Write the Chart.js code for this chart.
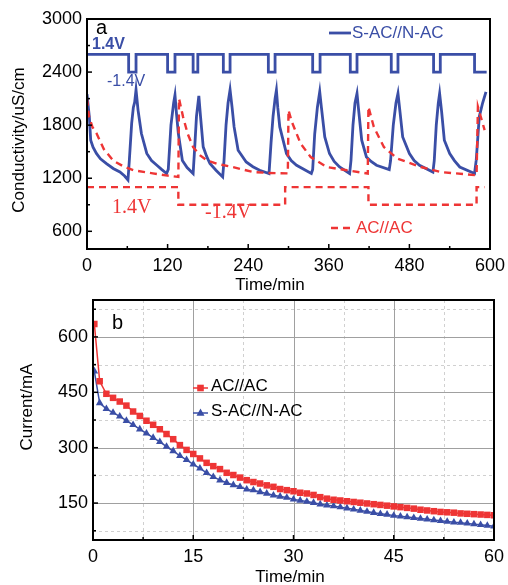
<!DOCTYPE html>
<html>
<head>
<meta charset="utf-8">
<script src="https://cdn.jsdelivr.net/npm/chart.js@4.4.1/dist/chart.umd.min.js"></script>
<style>
  html, body { margin: 0; padding: 0; background: #fff; }
  #wrap { position: relative; width: 508px; height: 585px; }
  canvas { position: absolute; left: 0; }
  #c1 { top: 0; }
  #c2 { top: 292px; }
</style>
</head>
<body>
<div id="wrap">
  <canvas id="c1" width="508" height="292"></canvas>
  <canvas id="c2" width="508" height="293"></canvas>
</div>
<script>
// ---------------- DATA (panel a) ----------------
const topXTicks = [0, 120, 240, 360, 480, 600];
const topXMinor = [60, 180, 300, 420, 540];
const topYTicks = [600, 1200, 1800, 2400, 3000];
const topYMinor = [900, 1500, 2100, 2700];

// S-AC//N-AC applied voltage (square wave), level holds from each time onward
const blueStepTimes  = [0, 62, 73, 120, 131, 158, 165, 203, 213, 270, 280, 336, 347, 392, 402, 453, 463, 516, 526, 577, 595];
const blueStepLevels = [2600, 2400, 2600, 2400, 2600, 2400, 2600, 2400, 2600, 2400, 2600, 2400, 2600, 2400, 2600, 2400, 2600, 2400, 2600, 2400, 2400];

// AC//AC applied voltage (square wave)
const redStepTimes  = [0, 136, 295, 419, 580, 592];
const redStepLevels = [1100, 900, 1100, 900, 1100, 1100];

// S-AC//N-AC conductivity
const blueCondTime = [0,2,3.5,5.5,9,14,20,29,39,49,56,61,63,66.5,69,71,73,76,81,89,96,104,111,118.5,121,125,129,131,133,136,142,149,158,160,163,166.5,169,173,178,183,192,202,204,207,210,213,216,219,225,237,247,257,271,274,277,280,282,284,287,297,304,312,334,336,339,343,346.5,349,354,361,368,376,391,393,396,399,402,404,409,416,423,431,450,452,456,460,463,466,470,480,487,495,515,517,520,523,525,528,532,540,547,555,577,579.5,584,589,594];
const blueCondVal  = [2150,2000,1890,1630,1550,1480,1420,1366,1310,1270,1225,1180,1400,1820,2000,2060,2200,1970,1705,1480,1400,1347,1300,1253,1300,1800,2050,2140,1950,1705,1400,1320,1253,1500,1900,2130,1900,1555,1450,1366,1290,1215,1400,1800,2050,2200,2000,1780,1517,1384,1330,1290,1253,1600,1900,2100,2196,2000,1780,1479,1400,1347,1253,1300,1700,2000,2177,2000,1667,1479,1390,1327,1253,1400,1800,2050,2158,2000,1630,1441,1390,1347,1298,1400,1800,2050,2158,1950,1667,1479,1400,1347,1270,1400,1800,2050,2158,1950,1630,1479,1400,1327,1253,1404,1894,2050,2177];

// AC//AC conductivity
const redCondTime = [0,3,8,14,25,39,55,69,98,120,136,137,143,150,158,168,178,195,217,247,270,299,300,305,318,333,357,387,418,419,427,442,462,497,527,580,582,592];
const redCondVal  = [2100,1900,1780,1710,1530,1400,1330,1290,1255,1230,1215,2100,1894,1700,1553,1460,1404,1360,1327,1270,1260,1255,1970,1837,1592,1440,1327,1290,1253,2007,1780,1553,1422,1327,1270,1233,2007,1743];

// ---------------- DATA (panel b) ----------------
const botXTicks = [0, 15, 30, 45, 60];
const botXMinor = [7.5, 22.5, 37.5, 52.5];
const botYTicks = [150, 300, 450, 600];
const botYMinor = [75, 225, 375, 525, 675];

const currTime = [0.2,1,2,3,4,5,6,7,8,9,10,11,12,13,14,15,16,17,18,19,20,21,22,23,24,25,26,27,28,29,30,31,32,33,34,35,36,37,38,39,40,41,42,43,44,45,46,47,48,49,50,51,52,53,54,55,56,57,58,59,60];
const acacCurrent = [635,480,446,435,425,414,398,386,373,362,350,337,323,307,294,283,271,259,250,242,232,226,219,212,207,203,198,194,188,185,182,178,176,172,166,162,159,157,155,153,151,149,147,145,143,141,139,137,135,132,130,128,126,125,124,122,121,120,119,118,117];
const sacCurrent  = [507,421,405,395,385,373,362,350,339,327,316,303,291,278,267,255,244,232,221,212,205,199,194,187,185,180,176,171,168,165,160,157,154,151,147,144,142,139,136,133,130,127,124,121,119,116,114,112,110,108,106,104,102,100,98,97,95,93,91,89,87];

// ---------------- helpers ----------------
const BLUE = '#3a4ea6';
const RED = '#ee3535';
const SANS = '"Liberation Sans", Arial, sans-serif';
const SERIF = '"Liberation Serif", "Times New Roman", serif';
const zip = (xs, ys) => xs.map((x, i) => ({x: x, y: ys[i]}));

function frameAndTicks(opts) {
  return {
    id: 'frameTicks',
    beforeDatasetsDraw(chart) {
      if (!opts.grid) return;
      const ctx = chart.ctx, a = chart.chartArea;
      const xs = chart.scales.x, ys = chart.scales.y;
      ctx.save();
      ctx.strokeStyle = '#d0d0d0'; ctx.lineWidth = 1; ctx.setLineDash([3, 3]);
      opts.grid.xMinor.forEach(v => { const p = Math.round(xs.getPixelForValue(v)) + 0.5; ctx.beginPath(); ctx.moveTo(p, a.top); ctx.lineTo(p, a.bottom); ctx.stroke(); });
      opts.grid.yMinor.forEach(v => { const p = Math.round(ys.getPixelForValue(v)) + 0.5; ctx.beginPath(); ctx.moveTo(a.left, p); ctx.lineTo(a.right, p); ctx.stroke(); });
      ctx.setLineDash([]); ctx.strokeStyle = '#a0a0a0';
      opts.grid.xMajor.forEach(v => { const p = Math.round(xs.getPixelForValue(v)) + 0.5; ctx.beginPath(); ctx.moveTo(p, a.top); ctx.lineTo(p, a.bottom); ctx.stroke(); });
      opts.grid.yMajor.forEach(v => { const p = Math.round(ys.getPixelForValue(v)) + 0.5; ctx.beginPath(); ctx.moveTo(a.left, p); ctx.lineTo(a.right, p); ctx.stroke(); });
      ctx.restore();
    },
    afterDatasetsDraw(chart) {
      const ctx = chart.ctx, a = chart.chartArea;
      const xs = chart.scales.x, ys = chart.scales.y;
      ctx.save();
      ctx.strokeStyle = '#000'; ctx.lineWidth = 1.5; ctx.setLineDash([]);
      opts.xMajor.forEach(v => { const p = xs.getPixelForValue(v); ctx.beginPath(); ctx.moveTo(p, a.bottom); ctx.lineTo(p, a.bottom - 5); ctx.stroke(); });
      opts.xMinor.forEach(v => { const p = xs.getPixelForValue(v); ctx.beginPath(); ctx.moveTo(p, a.bottom); ctx.lineTo(p, a.bottom - 3); ctx.stroke(); });
      opts.yMajor.forEach(v => { const p = ys.getPixelForValue(v); ctx.beginPath(); ctx.moveTo(a.left, p); ctx.lineTo(a.left + 5, p); ctx.stroke(); });
      opts.yMinor.forEach(v => { const p = ys.getPixelForValue(v); ctx.beginPath(); ctx.moveTo(a.left, p); ctx.lineTo(a.left + 3, p); ctx.stroke(); });
      ctx.lineWidth = 2;
      ctx.strokeRect(a.left, a.top, a.right - a.left, a.bottom - a.top);
      ctx.restore();
      if (opts.extra) opts.extra(chart);
    }
  };
}

function baseScales(xMin, xMax, xTicks, yMin, yMax, yTicks, yWidth, xHeight) {
  const tickFont = {family: SANS, size: 18};
  return {
    x: {
      type: 'linear', min: xMin, max: xMax,
      afterBuildTicks: s => { s.ticks = xTicks.map(v => ({value: v})); },
      afterFit: s => { s.height = xHeight; s.paddingLeft = 0; s.paddingRight = 0; },
      grid: {display: false, drawTicks: false},
      border: {display: false},
      ticks: {font: tickFont, color: '#000', padding: 6, maxRotation: 0, autoSkip: false, callback: v => String(v)}
    },
    y: {
      type: 'linear', min: yMin, max: yMax,
      afterBuildTicks: s => { s.ticks = yTicks.map(v => ({value: v})); },
      afterFit: s => { s.width = yWidth; s.paddingTop = 0; s.paddingBottom = 0; },
      grid: {display: false, drawTicks: false},
      border: {display: false},
      ticks: {font: tickFont, color: '#000', padding: 5, autoSkip: false, callback: v => String(v)}
    }
  };
}

// ---------------- Chart a ----------------
new Chart(document.getElementById('c1'), {
  type: 'line',
  data: {
    datasets: [
      {label: 'S-AC//N-AC V', data: zip(blueStepTimes, blueStepLevels), stepped: 'before', borderColor: BLUE, borderWidth: 2.8, pointRadius: 0, fill: false},
      {label: 'AC//AC V', data: zip(redStepTimes, redStepLevels), stepped: 'before', borderColor: RED, borderWidth: 2.4, borderDash: [7, 5], pointRadius: 0, fill: false},
      {label: 'AC//AC', data: zip(redCondTime, redCondVal), borderColor: RED, borderWidth: 2.4, borderDash: [7, 5], pointRadius: 0, tension: 0, fill: false},
      {label: 'S-AC//N-AC', data: zip(blueCondTime, blueCondVal), borderColor: BLUE, borderWidth: 2.8, pointRadius: 0, tension: 0, fill: false}
    ]
  },
  options: {
    responsive: false, animation: false, devicePixelRatio: 1,
    layout: {padding: {top: 19, right: 18, left: 0, bottom: 0}},
    plugins: {legend: {display: false}, tooltip: {enabled: false}},
    scales: baseScales(0, 600, topXTicks, 400, 3000, topYTicks, 87, 43)
  },
  plugins: [frameAndTicks({
    xMajor: topXTicks, xMinor: topXMinor, yMajor: topYTicks, yMinor: topYMinor,
    extra(chart) {
      const ctx = chart.ctx;
      ctx.save();
      ctx.textBaseline = 'middle'; ctx.textAlign = 'left';
      ctx.fillStyle = '#000';
      ctx.font = '20px "Liberation Sans"'; ctx.fillText('a', 96, 28);
      ctx.fillStyle = BLUE;
      ctx.font = 'bold 16px "Liberation Sans"'; ctx.fillText('1.4V', 92, 45);
      ctx.font = '16px "Liberation Sans"'; ctx.fillText('-1.4V', 107, 82);
      ctx.fillStyle = RED;
      ctx.font = '20px "Liberation Serif"'; ctx.fillText('1.4V', 112, 208);
      ctx.fillText('-1.4V', 205, 213);
      // legend
      ctx.strokeStyle = BLUE; ctx.lineWidth = 2.8;
      ctx.beginPath(); ctx.moveTo(329, 33); ctx.lineTo(351, 33); ctx.stroke();
      ctx.fillStyle = BLUE; ctx.font = '17px "Liberation Sans"'; ctx.fillText('S-AC//N-AC', 352, 33);
      ctx.strokeStyle = RED; ctx.lineWidth = 2.4; ctx.setLineDash([7, 5]);
      ctx.beginPath(); ctx.moveTo(331, 228); ctx.lineTo(351, 228); ctx.stroke();
      ctx.setLineDash([]);
      ctx.fillStyle = RED; ctx.fillText('AC//AC', 356, 228);
      // axis titles
      ctx.fillStyle = '#000';
      ctx.textAlign = 'center';
      ctx.font = '17px "Liberation Sans"'; ctx.fillText('Time/min', 270, 285);
      ctx.translate(19, 140); ctx.rotate(-Math.PI / 2);
      ctx.fillText('Conductivity/uS/cm', 0, 0);
      ctx.restore();
    }
  })]
});

// ---------------- Chart b ----------------
new Chart(document.getElementById('c2'), {
  type: 'line',
  data: {
    datasets: [
      {label: 'AC//AC', data: zip(currTime, acacCurrent), borderColor: RED, backgroundColor: RED, borderWidth: 1.5, pointStyle: 'rect', pointRadius: 4.6, pointBorderWidth: 0, tension: 0, fill: false},
      {label: 'S-AC//N-AC', data: zip(currTime, sacCurrent), borderColor: BLUE, backgroundColor: BLUE, borderWidth: 1.5, pointStyle: 'triangle', pointRadius: 4.4, pointBorderWidth: 0, tension: 0, fill: false}
    ]
  },
  options: {
    responsive: false, animation: false, devicePixelRatio: 1,
    layout: {padding: {top: 8, right: 14, left: 0, bottom: 0}},
    plugins: {legend: {display: false}, tooltip: {enabled: false}},
    scales: baseScales(0, 60, botXTicks, 50, 700, botYTicks, 93, 45)
  },
  plugins: [frameAndTicks({
    xMajor: botXTicks, xMinor: botXMinor, yMajor: botYTicks, yMinor: botYMinor,
    grid: {xMajor: [15, 30, 45], xMinor: botXMinor, yMajor: botYTicks, yMinor: botYMinor},
    extra(chart) {
      const ctx = chart.ctx;
      ctx.save();
      ctx.textBaseline = 'middle'; ctx.textAlign = 'left';
      ctx.fillStyle = '#000';
      ctx.font = '20px "Liberation Sans"'; ctx.fillText('b', 112, 31);
      const rows = [
        {y: 96, color: RED, text: 'AC//AC', shape: 'rect'},
        {y: 121, color: BLUE, text: 'S-AC//N-AC', shape: 'tri'}
      ];
      rows.forEach(r => {
        ctx.strokeStyle = r.color; ctx.fillStyle = r.color; ctx.lineWidth = 1.5;
        ctx.beginPath(); ctx.moveTo(193, r.y); ctx.lineTo(208, r.y); ctx.stroke();
        if (r.shape === 'rect') ctx.fillRect(197.2, r.y - 3.3, 6.6, 6.6);
        else { ctx.beginPath(); ctx.moveTo(200.5, r.y - 4.4); ctx.lineTo(204.5, r.y + 2.8); ctx.lineTo(196.5, r.y + 2.8); ctx.closePath(); ctx.fill(); }
        ctx.fillStyle = '#000'; ctx.font = '17px "Liberation Sans"';
        ctx.fillText(r.text, 211, r.y - 2);
      });
      ctx.textAlign = 'center';
      ctx.font = '17px "Liberation Sans"'; ctx.fillText('Time/min', 290, 285);
      ctx.translate(27, 115); ctx.rotate(-Math.PI / 2);
      ctx.fillText('Current/mA', 0, 0);
      ctx.restore();
    }
  })]
});
</script>
</body>
</html>
